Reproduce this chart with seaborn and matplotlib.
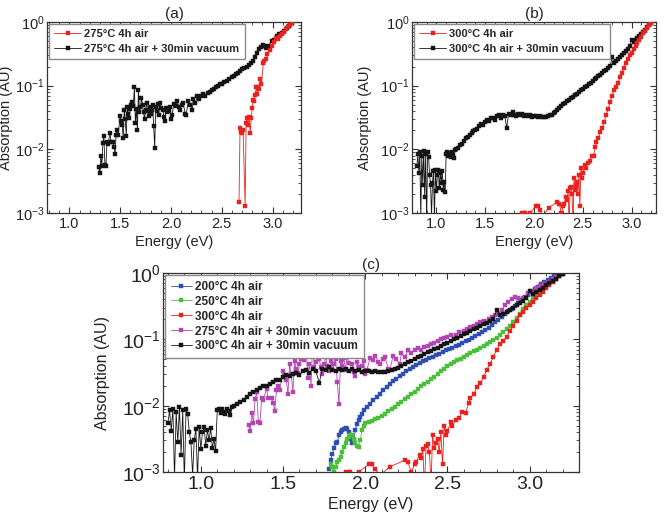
import numpy as np
import seaborn as sns
import matplotlib.pyplot as plt
from matplotlib.ticker import MultipleLocator, FormatStrFormatter

# ---- values ----
# 275C 4h air
e_275_air = [2.67, 2.68, 2.69, 2.70, 2.71, 2.73, 2.74, 2.75, 2.76, 2.77, 2.78, 2.79, 2.80, 2.81,
             2.82, 2.83, 2.84, 2.85, 2.86, 2.87, 2.88, 2.89, 2.91, 2.92, 2.94, 2.95, 2.97, 2.99,
             3.01, 3.03, 3.05, 3.07, 3.09, 3.11, 3.13, 3.15, 3.17, 3.19]
a_275_air = [0.0015, 0.022, 0.019, 0.018, 0.020, 0.0013, 0.026, 0.031, 0.024, 0.032, 0.018, 0.031,
             0.045, 0.060, 0.058, 0.072, 0.095, 0.075, 0.097, 0.090, 0.127, 0.105, 0.230, 0.240,
             0.260, 0.310, 0.360, 0.420, 0.480, 0.560, 0.540, 0.600, 0.650, 0.700, 0.790, 0.820,
             0.900, 0.980]

# 275C 4h air + 30min vacuum
e_275_vac = [1.29, 1.30, 1.31, 1.32, 1.33, 1.34, 1.35, 1.36, 1.37, 1.38, 1.40, 1.41, 1.43, 1.44,
             1.45, 1.46, 1.47, 1.48, 1.50, 1.51, 1.52, 1.53, 1.54, 1.55, 1.56, 1.57, 1.58, 1.59,
             1.60, 1.61, 1.62, 1.63, 1.64, 1.65, 1.66, 1.67, 1.68, 1.69, 1.70, 1.71, 1.72, 1.73,
             1.74, 1.75, 1.76, 1.77, 1.78, 1.79, 1.80, 1.81, 1.82, 1.83, 1.84, 1.85, 1.86, 1.87,
             1.88, 1.89, 1.90, 1.92, 1.93, 1.94, 1.95, 1.96, 1.98, 1.99, 2.00, 2.01, 2.03, 2.05,
             2.06, 2.08, 2.09, 2.11, 2.12, 2.14, 2.15, 2.17, 2.19, 2.21, 2.22, 2.24, 2.26, 2.28,
             2.30, 2.32, 2.34, 2.36, 2.38, 2.40, 2.42, 2.44, 2.46, 2.48, 2.50, 2.52, 2.55, 2.57,
             2.60, 2.62, 2.64, 2.66, 2.68, 2.70, 2.72, 2.75, 2.77, 2.79, 2.81, 2.83, 2.85, 2.87,
             2.89, 2.91, 2.93, 2.94, 2.96, 2.99, 3.01, 3.04, 3.06, 3.09, 3.11, 3.14, 3.16, 3.19]
a_275_vac = [0.0052, 0.0042, 0.0078, 0.0055, 0.0126, 0.016, 0.0056, 0.0055, 0.013, 0.012, 0.018,
             0.013, 0.013, 0.011, 0.0083, 0.017, 0.020, 0.017, 0.033, 0.028, 0.024, 0.015, 0.042,
             0.030, 0.016, 0.047, 0.036, 0.031, 0.043, 0.050, 0.055, 0.048, 0.095, 0.026, 0.043,
             0.020, 0.087, 0.038, 0.046, 0.065, 0.050, 0.038, 0.030, 0.042, 0.054, 0.040, 0.033,
             0.047, 0.036, 0.042, 0.050, 0.023, 0.0105, 0.047, 0.040, 0.052, 0.035, 0.054, 0.044,
             0.042, 0.032, 0.028, 0.045, 0.038, 0.040, 0.047, 0.030, 0.035, 0.052, 0.048, 0.057,
             0.046, 0.042, 0.050, 0.054, 0.036, 0.035, 0.057, 0.050, 0.042, 0.062, 0.054, 0.068,
             0.062, 0.068, 0.075, 0.070, 0.077, 0.080, 0.085, 0.089, 0.094, 0.100, 0.106, 0.108,
             0.115, 0.118, 0.128, 0.135, 0.141, 0.152, 0.160, 0.170, 0.180, 0.190, 0.200, 0.215,
             0.230, 0.244, 0.280, 0.330, 0.370, 0.400, 0.440, 0.420, 0.390, 0.420, 0.500, 0.530,
             0.600, 0.640, 0.680, 0.730, 0.810, 0.860, 0.980]

# 300C 4h air
e_300_air = [1.88, 1.91, 1.93, 1.96, 2.02, 2.04, 2.06, 2.09, 2.15, 2.24, 2.26, 2.28, 2.30, 2.31,
             2.33, 2.34, 2.35, 2.36, 2.37, 2.38, 2.39, 2.40, 2.41, 2.42, 2.43, 2.44, 2.45, 2.46,
             2.47, 2.48, 2.49, 2.50, 2.52, 2.53, 2.55, 2.57, 2.59, 2.61, 2.63, 2.64, 2.66, 2.68,
             2.70, 2.72, 2.74, 2.76, 2.78, 2.80, 2.82, 2.84, 2.86, 2.88, 2.90, 2.92, 2.94, 2.96,
             2.98, 3.00, 3.02, 3.04, 3.06, 3.08, 3.10, 3.12, 3.14, 3.16, 3.18, 3.20]
a_300_air = [0.0010, 0.0010, 0.0009, 0.0010, 0.0013, 0.0013, 0.0011, 0.0009, 0.0012, 0.0015,
             0.0014, 0.0010, 0.0013, 0.0014, 0.0018, 0.0016, 0.0022, 0.0006, 0.0025, 0.0026,
             0.0020, 0.0007, 0.0036, 0.0023, 0.0027, 0.0031, 0.0020, 0.0040, 0.0013, 0.0050,
             0.0036, 0.0042, 0.0056, 0.0050, 0.0060, 0.0065, 0.0080, 0.0078, 0.0110, 0.0130,
             0.0150, 0.0190, 0.0220, 0.0270, 0.0350, 0.0430, 0.0550, 0.0700, 0.0850, 0.0950,
             0.1100, 0.1350, 0.1600, 0.1900, 0.2300, 0.2600, 0.3000, 0.3300, 0.3700, 0.4200,
             0.4700, 0.5200, 0.5900, 0.6600, 0.7300, 0.8000, 0.9000, 0.9800]

# 300C 4h air + 30min vacuum
e_300_vac = [0.80, 0.81, 0.82, 0.83, 0.84, 0.85, 0.86, 0.87, 0.88, 0.89, 0.90, 0.91, 0.92, 0.93,
             0.94, 0.95, 0.96, 0.97, 0.98, 0.99, 1.00, 1.01, 1.02, 1.03, 1.04, 1.05, 1.06, 1.07,
             1.08, 1.09, 1.10, 1.11, 1.12, 1.13, 1.14, 1.15, 1.16, 1.17, 1.18, 1.19,
             1.20, 1.22, 1.24, 1.26, 1.28, 1.30, 1.32, 1.34, 1.36, 1.38, 1.40, 1.42, 1.44, 1.46,
             1.48, 1.50, 1.52, 1.54, 1.56, 1.58, 1.60, 1.62, 1.64, 1.66, 1.68, 1.70, 1.72, 1.74,
             1.76, 1.78, 1.80, 1.82, 1.84, 1.86, 1.88, 1.90, 1.92, 1.94, 1.96, 1.98, 2.00, 2.02,
             2.04, 2.06, 2.08, 2.10, 2.12, 2.14, 2.16, 2.18, 2.20, 2.22, 2.24, 2.26, 2.28, 2.30,
             2.32, 2.34, 2.36, 2.38, 2.40, 2.42, 2.44, 2.46, 2.48, 2.50, 2.52, 2.54, 2.56, 2.58,
             2.60, 2.62, 2.64, 2.66, 2.68, 2.70, 2.72, 2.74, 2.76, 2.78, 2.80, 2.82, 2.84, 2.86,
             2.88, 2.90, 2.92, 2.94, 2.96, 2.98, 3.00, 3.02, 3.04, 3.06, 3.08, 3.10, 3.12, 3.14,
             3.16, 3.18, 3.20]
a_300_vac = [0.0055, 0.0085, 0.0042, 0.0090, 0.0008, 0.0080, 0.0028, 0.0095, 0.0018, 0.0085,
             0.0007, 0.0090, 0.0075, 0.0040, 0.0028, 0.0009, 0.0030, 0.0045, 0.0008, 0.0048,
             0.0022, 0.0040, 0.0047, 0.0025, 0.0043, 0.0030, 0.0046, 0.0023, 0.0031, 0.0021,
             0.0085, 0.0090, 0.0078, 0.0088, 0.0080, 0.0075, 0.0090, 0.0082, 0.0072, 0.0096,
             0.0100, 0.0105, 0.0115, 0.0122, 0.0135, 0.0150, 0.0158, 0.0170, 0.0182, 0.0195,
             0.0200, 0.0212, 0.0230, 0.0248, 0.0240, 0.0272, 0.0290, 0.0278, 0.0305, 0.0312,
             0.0290, 0.0330, 0.0342, 0.0312, 0.0352, 0.0335, 0.0220, 0.0362, 0.0340, 0.0380,
             0.0350, 0.0332, 0.0362, 0.0340, 0.0360, 0.0330, 0.0352, 0.0330, 0.0342, 0.0322,
             0.0330, 0.0335, 0.0320, 0.0328, 0.0318, 0.0325, 0.0320, 0.0330, 0.0340, 0.0352,
             0.0370, 0.0392, 0.0420, 0.0450, 0.0478, 0.0510, 0.0540, 0.0565, 0.0600, 0.0635,
             0.0670, 0.0705, 0.0745, 0.0790, 0.0840, 0.0890, 0.0950, 0.1000, 0.1060, 0.1120,
             0.1190, 0.1260, 0.1330, 0.1410, 0.1490, 0.1580, 0.1680, 0.1790, 0.1900, 0.2020,
             0.2800, 0.2300, 0.2450, 0.2620, 0.2800, 0.3000, 0.3250, 0.3500, 0.3800, 0.4200,
             0.5300, 0.4800, 0.5200, 0.5600, 0.6000, 0.6500, 0.7000, 0.7600, 0.8200, 0.8900,
             0.9700]

# 200C 4h air
e_200_air = [1.78, 1.79, 1.80, 1.81, 1.82, 1.83, 1.84, 1.85, 1.86, 1.87, 1.88, 1.89, 1.90, 1.91,
             1.92, 1.93, 1.94, 1.95, 1.96, 1.97, 1.98, 1.99, 2.01, 2.03, 2.05, 2.07, 2.09, 2.11,
             2.13, 2.15, 2.17, 2.19, 2.21, 2.23, 2.25, 2.27, 2.29, 2.31, 2.33, 2.35, 2.37, 2.39,
             2.41, 2.43, 2.45, 2.47, 2.49, 2.51, 2.53, 2.55, 2.57, 2.59, 2.61, 2.63, 2.65, 2.67,
             2.69, 2.71, 2.73, 2.75, 2.77, 2.79, 2.81, 2.83, 2.85, 2.87, 2.89, 2.91, 2.93, 2.95,
             2.97, 2.99, 3.01, 3.03, 3.05, 3.07, 3.09, 3.11, 3.13, 3.15, 3.17, 3.19]
a_200_air = [0.0011, 0.0015, 0.0019, 0.0023, 0.0027, 0.0028, 0.0036, 0.0040, 0.0043, 0.0045,
             0.0046, 0.0044, 0.0040, 0.0031, 0.0027, 0.0030, 0.0043, 0.0053, 0.0060, 0.0068,
             0.0076, 0.0086, 0.0095, 0.0105, 0.0120, 0.0135, 0.0150, 0.0170, 0.0190, 0.0210,
             0.0232, 0.0255, 0.0278, 0.0305, 0.0332, 0.0356, 0.0385, 0.0412, 0.0445, 0.0470,
             0.0495, 0.0520, 0.0548, 0.0578, 0.0610, 0.0645, 0.0680, 0.0715, 0.0752, 0.0792,
             0.0835, 0.0880, 0.0930, 0.0985, 0.1045, 0.1110, 0.1190, 0.1280, 0.1380, 0.1500,
             0.1640, 0.1800, 0.1980, 0.2180, 0.2400, 0.2640, 0.2900, 0.3200, 0.3520, 0.3880,
             0.4280, 0.4720, 0.5200, 0.5700, 0.6200, 0.6750, 0.7300, 0.7900, 0.8400, 0.8900,
             0.9400, 0.9800]

# 250C 4h air
e_250_air = [1.79, 1.80, 1.81, 1.82, 1.83, 1.84, 1.85, 1.86, 1.87, 1.88, 1.89, 1.90, 1.91, 1.92,
             1.93, 1.94, 1.95, 1.96, 1.97, 1.98, 1.99, 2.00, 2.02, 2.04, 2.06, 2.08, 2.10, 2.12,
             2.14, 2.16, 2.18, 2.20, 2.22, 2.24, 2.26, 2.28, 2.30, 2.32, 2.34, 2.36, 2.38, 2.40,
             2.42, 2.44, 2.46, 2.48, 2.50, 2.52, 2.54, 2.56, 2.58, 2.60, 2.62, 2.64, 2.66, 2.68,
             2.70, 2.72, 2.74, 2.76, 2.78, 2.80, 2.82, 2.84, 2.86, 2.88, 2.90, 2.92, 2.94, 2.96,
             2.98, 3.00, 3.02, 3.04, 3.06, 3.08, 3.10, 3.12, 3.14, 3.16, 3.18, 3.20]
a_250_air = [0.0013, 0.0012, 0.0010, 0.0012, 0.0014, 0.0015, 0.0017, 0.0020, 0.0024, 0.0027,
             0.0031, 0.0034, 0.0036, 0.0036, 0.0031, 0.0027, 0.0025, 0.0024, 0.0030, 0.0043,
             0.0050, 0.0054, 0.0056, 0.0059, 0.0062, 0.0066, 0.0070, 0.0075, 0.0082, 0.0089,
             0.0097, 0.0105, 0.0115, 0.0125, 0.0135, 0.0148, 0.0160, 0.0180, 0.0195, 0.0210,
             0.0230, 0.0250, 0.0270, 0.0300, 0.0330, 0.0360, 0.0390, 0.0420, 0.0450, 0.0480,
             0.0510, 0.0550, 0.0590, 0.0620, 0.0660, 0.0700, 0.0740, 0.0800, 0.0860, 0.0920,
             0.0980, 0.1050, 0.1170, 0.1300, 0.1430, 0.1570, 0.1800, 0.2100, 0.2450, 0.2850,
             0.3300, 0.3700, 0.4200, 0.4700, 0.5300, 0.5800, 0.6300, 0.6900, 0.7400, 0.8200,
             0.9000, 1.0000]

labels = {
    '200_air': '200\u00b0C 4h air',
    '250_air': '250\u00b0C 4h air',
    '275_air': '275\u00b0C 4h air',
    '300_air': '300\u00b0C 4h air',
    '275_vac': '275\u00b0C 4h air + 30min vacuum',
    '300_vac': '300\u00b0C 4h air + 30min vacuum',
}
RED = '#e8231f'
BLACK = '#151515'
BLUE = '#2f4fae'
GREEN = '#4bbf3a'
MAGENTA = '#b446b4'

sns.set_theme(style='ticks')
plt.rcParams['font.family'] = ['Liberation Sans', 'DejaVu Sans']
plt.rcParams.update({
    'xtick.direction': 'in', 'ytick.direction': 'in',
    'xtick.top': True, 'ytick.right': True,
    'xtick.major.size': 4, 'ytick.major.size': 4,
    'xtick.minor.size': 2, 'ytick.minor.size': 2,
    'xtick.major.width': 0.8, 'ytick.major.width': 0.8,
    'xtick.minor.width': 0.6, 'ytick.minor.width': 0.6,
    'xtick.major.pad': 3, 'ytick.major.pad': 1.5,
    'axes.linewidth': 0.9, 'axes.edgecolor': '#333333',
    'mathtext.default': 'regular',
})

fig = plt.figure(figsize=(6.66, 5.2), dpi=100)
ax_a = fig.add_axes([47 / 666, 1 - 213 / 520, 254 / 666, 191 / 520])
ax_b = fig.add_axes([412 / 666, 1 - 213 / 520, 244 / 666, 191 / 520])
ax_c = fig.add_axes([163 / 666, 1 - 472 / 520, 416 / 666, 199 / 520])


def draw(ax, series, xlim, title, tick_fs, lab_fs, leg_fs, ms, leg_spacing, handle_len, ylab_x):
    ax.set_yscale('log')
    for key, e, a, col, z in series:
        sns.lineplot(x=e, y=a, ax=ax, color=col, marker='s', markersize=ms,
                     markeredgecolor=col, markeredgewidth=0.3, linewidth=0.6,
                     sort=False, estimator=None, label=labels[key], zorder=z)
    ax.set_xlim(*xlim)
    ax.set_ylim(1e-3, 1.0)
    ax.xaxis.set_major_locator(MultipleLocator(0.5))
    ax.xaxis.set_minor_locator(MultipleLocator(0.1))
    ax.xaxis.set_major_formatter(FormatStrFormatter('%.1f'))
    ax.tick_params(labelsize=tick_fs)
    ax.tick_params(which='both', colors='#333333', labelcolor='#222222')
    ax.set_xlabel('Energy (eV)', fontsize=lab_fs, color='#222222', labelpad=3)
    ax.set_ylabel('Absorption (AU)', fontsize=lab_fs, color='#222222')
    ax.yaxis.set_label_coords(ylab_x, 0.5)
    ax.set_title(title, fontsize=11, pad=3, color='#222222')
    leg = ax.legend(loc='upper left', frameon=True, fancybox=False,
                    edgecolor='#8a8a8a', framealpha=1, borderaxespad=0.15,
                    labelspacing=leg_spacing, handlelength=handle_len, handletextpad=0.3,
                    borderpad=0.5, prop={'weight': 'bold', 'size': leg_fs})
    leg.get_frame().set_linewidth(1.0)


draw(ax_a,
     [('275_air', e_275_air, a_275_air, RED, 3),
      ('275_vac', e_275_vac, a_275_vac, BLACK, 2)],
     (0.78, 3.28), '(a)', 10.5, 10.5, 8, 3.0, 0.4, 2.4, -0.135)
draw(ax_b,
     [('300_air', e_300_air, a_300_air, RED, 3),
      ('300_vac', e_300_vac, a_300_vac, BLACK, 2)],
     (0.75, 3.25), '(b)', 10.5, 10.5, 8, 3.0, 0.4, 2.4, -0.165)
draw(ax_c,
     [('200_air', e_200_air, a_200_air, BLUE, 2),
      ('250_air', e_250_air, a_250_air, GREEN, 2.1),
      ('300_air', e_300_air, a_300_air, RED, 2.2),
      ('275_vac', e_275_vac, a_275_vac, MAGENTA, 2.3),
      ('300_vac', e_300_vac, a_300_vac, BLACK, 2.4)],
     (0.77, 3.30), '(c)', 14, 11.5, 8.5, 3.3, 0.25, 1.8, -0.127)

fig.savefig('out.png', dpi=100)
